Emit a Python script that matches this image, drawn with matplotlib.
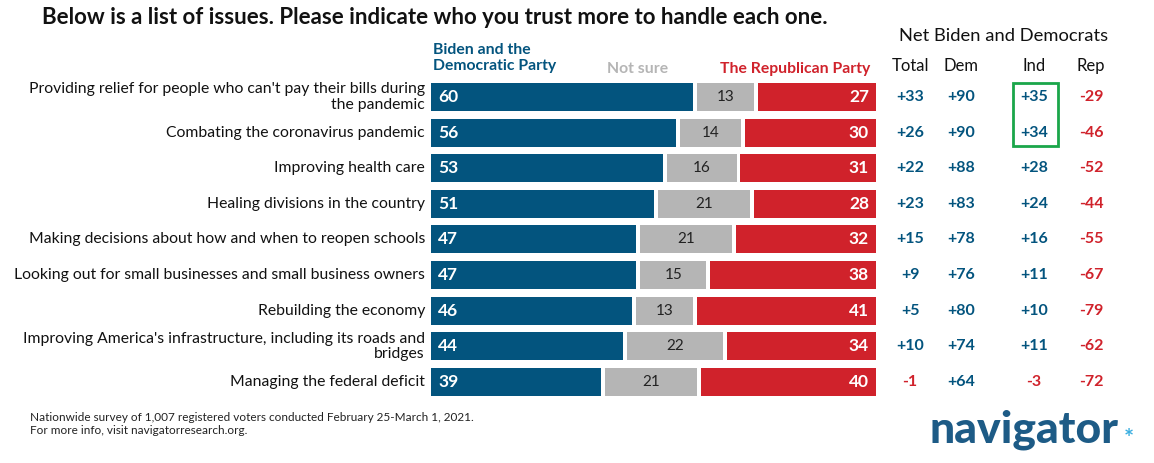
import matplotlib
matplotlib.use("Agg")
import matplotlib.pyplot as plt
from matplotlib import transforms
from matplotlib.patches import Rectangle

plt.rcParams['font.family'] = ['Lato', 'DejaVu Sans']

issues = [
    "Providing relief for people who can't pay their bills during\nthe pandemic",
    "Combating the coronavirus pandemic",
    "Improving health care",
    "Healing divisions in the country",
    "Making decisions about how and when to reopen schools",
    "Looking out for small businesses and small business owners",
    "Rebuilding the economy",
    "Improving America's infrastructure, including its roads and\nbridges",
    "Managing the federal deficit",
]
biden = [60, 56, 53, 51, 47, 47, 46, 44, 39]
not_sure = [13, 14, 16, 21, 21, 15, 13, 22, 21]
gop = [27, 30, 31, 28, 32, 38, 41, 34, 40]

net_cols = ["Total", "Dem", "Ind", "Rep"]
net_total = [33, 26, 22, 23, 15, 9, 5, 10, -1]
net_dem = [90, 90, 88, 83, 78, 76, 80, 74, 64]
net_ind = [35, 34, 28, 24, 16, 11, 10, 11, -3]
net_rep = [-29, -46, -52, -44, -55, -67, -79, -62, -72]

BLUE = "#03547e"
GRAY = "#b5b5b5"
RED = "#d0222b"
W, H = 1154, 463

fig = plt.figure(figsize=(W / 100, H / 100), dpi=100)

def fx(px):
    return px / W

def fy(py):
    return 1 - py / H

row_top, row_step = 79.2, 35.6
n = len(issues)
ax = fig.add_axes([fx(431), fy(row_top + row_step * n), fx(876) - fx(431),
                   row_step * n / H])
gap = 0.9
y = list(range(n))
left2 = [b + gap for b in biden]
left3 = [b + s + 2 * gap for b, s in zip(biden, not_sure)]
ax.barh(y, biden, height=0.79, color=BLUE)
ax.barh(y, not_sure, left=left2, height=0.79, color=GRAY)
ax.barh(y, gop, left=left3, height=0.79, color=RED)
ax.set_xlim(0, 100 + 2 * gap)
ax.set_ylim(n - 0.5, -0.5)
ax.axis("off")

for i in y:
    ax.text(1.6, i, str(biden[i]), color="white", fontsize=12.5, fontweight="bold",
            va="center", ha="left")
    ax.text(left2[i] + not_sure[i] / 2, i, str(not_sure[i]), color="#222222",
            fontsize=11, va="center", ha="center")
    ax.text(100 + 2 * gap - 1.6, i, str(gop[i]), color="white", fontsize=12.5,
            fontweight="bold", va="center", ha="right")
    ax.text(-1.4, i, issues[i], fontsize=11.3, va="center", ha="right",
            linespacing=1.12, color="#111111")

# net columns
tr = transforms.blended_transform_factory(fig.transFigure, ax.transData)
col_x = [910, 961, 1034, 1091]
for cx, vals in zip(col_x, [net_total, net_dem, net_ind, net_rep]):
    for i, v in enumerate(vals):
        s = "%+d" % v
        ax.text(fx(cx), i, s, transform=tr, ha="center", va="center",
                fontsize=11.5, fontweight="bold",
                color=BLUE if v > 0 else RED)
for cx, name in zip(col_x, net_cols):
    fig.text(fx(cx), fy(66), name, ha="center", va="center", fontsize=12,
             color="#111111")
fig.text(fx(1004), fy(36), "Net Biden and Democrats", ha="center", va="center",
         fontsize=13.2, color="#111111")

fig.add_artist(Rectangle((fx(1013), fy(146)), fx(1058) - fx(1013),
                         (146 - 83) / H, transform=fig.transFigure,
                         fill=False, edgecolor="#1aa64a", linewidth=2))

# headers
fig.text(fx(42), fy(17), "Below is a list of issues. Please indicate who you trust more to handle each one.",
         ha="left", va="center", fontsize=16, fontweight="bold", color="#111111")
fig.text(fx(433), fy(58), "Biden and the\nDemocratic Party", ha="left", va="center",
         fontsize=11.3, fontweight="bold", color=BLUE, linespacing=1.1)
fig.text(fx(638), fy(69), "Not sure", ha="center", va="center", fontsize=11.3,
         fontweight="bold", color=GRAY)
fig.text(fx(870), fy(69), "The Republican Party", ha="right", va="center",
         fontsize=11.3, fontweight="bold", color=RED)

# footnote
fig.text(fx(30), fy(424), "Nationwide survey of 1,007 registered voters conducted February 25-March 1, 2021.\nFor more info, visit navigatorresearch.org.",
         ha="left", va="center", fontsize=8.5, color="#222222", linespacing=1.2)

# logo
fig.text(fx(930), fy(430), "navigator", ha="left", va="center", fontsize=32,
         fontweight="black", color="#1d5b86")
fig.text(fx(1129), fy(440), "*", ha="center", va="center", fontsize=17,
         fontweight="bold", color="#3aaee0")

fig.savefig("out.png", dpi=100)
